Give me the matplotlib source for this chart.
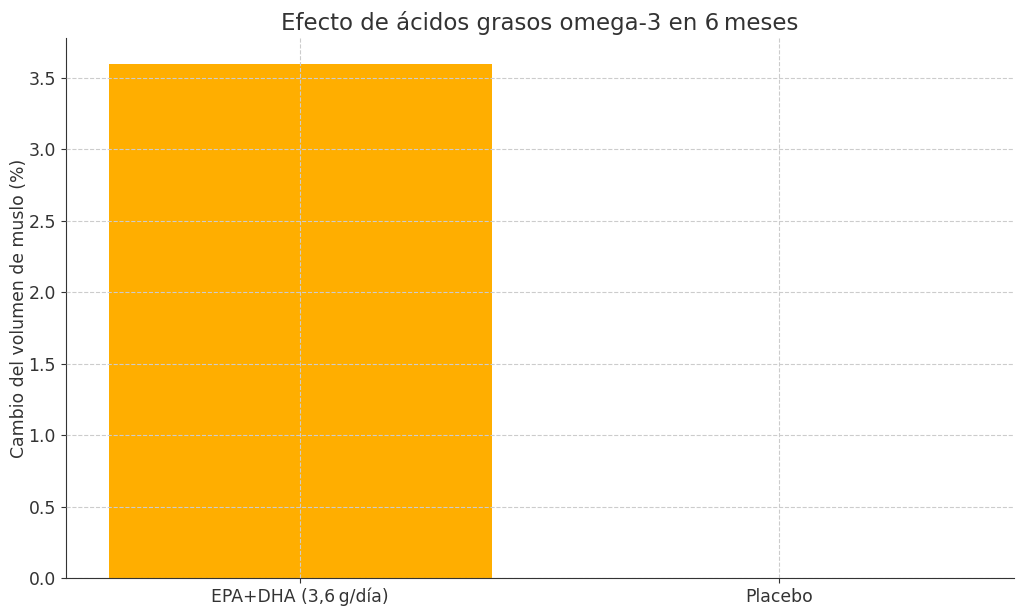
import matplotlib
matplotlib.use("Agg")
import matplotlib.pyplot as plt

categories = ["EPA+DHA (3,6\u202fg/día)", "Placebo"]
values = [3.6, 0.0]

plt.rcParams['font.family'] = ['DejaVu Sans']
plt.rcParams['text.color'] = '#333333'
plt.rcParams['axes.labelcolor'] = '#333333'
plt.rcParams['xtick.color'] = '#333333'
plt.rcParams['ytick.color'] = '#333333'

fig, ax = plt.subplots(figsize=(10.24, 6.11), dpi=100)
ax.bar(categories, values, color='#FFAE00', width=0.8)
ax.set_title("Efecto de ácidos grasos omega-3 en 6\u202fmeses", fontsize=16.5)
ax.set_ylabel("Cambio del volumen de muslo (%)", fontsize=12.4, labelpad=0.5)
ax.tick_params(labelsize=12.4)
ax.grid(True, linestyle='--', color='#cccccc', linewidth=0.8)
ax.set_axisbelow(False)
for s in ['top', 'right']:
    ax.spines[s].set_visible(False)
for s in ['left', 'bottom']:
    ax.spines[s].set_color('#333333')
fig.subplots_adjust(left=0.064, right=0.99, top=0.938, bottom=0.054)
fig.savefig("out.png", dpi=100)
